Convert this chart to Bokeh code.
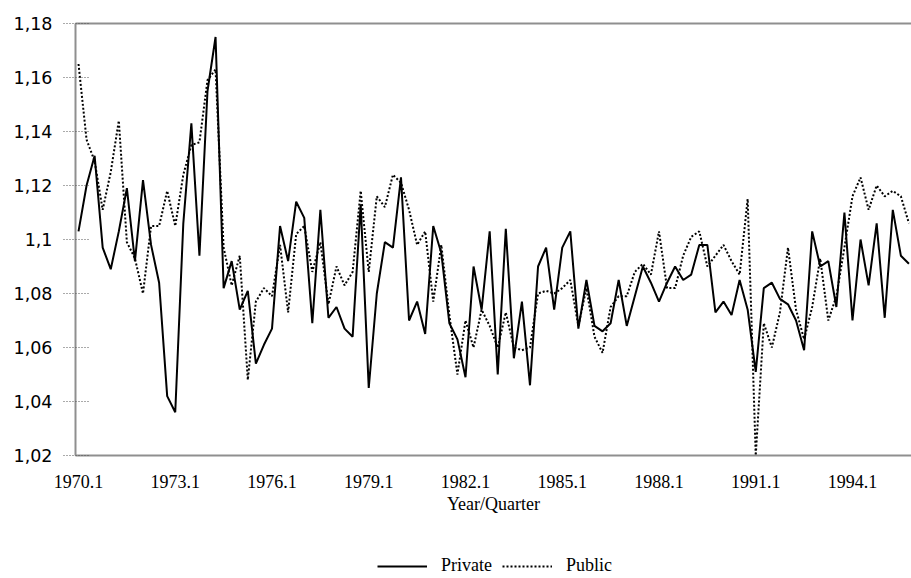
from bokeh.plotting import figure
from bokeh.layouts import column
from bokeh.models import (ColumnDataSource, FixedTicker, LinearAxis, Legend,
                          LegendItem, Range1d)
from bokeh.embed import file_html
from bokeh.resources import INLINE

# ---------------- data (quarterly, 1970.1 ... 1995.4) ----------------
private = [
    1.103, 1.120, 1.131, 1.097, 1.089, 1.103, 1.119, 1.092, 1.122, 1.098,
    1.084, 1.042, 1.036, 1.106, 1.143, 1.094, 1.155, 1.175, 1.082, 1.092,
    1.074, 1.081, 1.054, 1.061, 1.067, 1.105, 1.092, 1.114, 1.108, 1.069,
    1.111, 1.071, 1.075, 1.067, 1.064, 1.113, 1.045, 1.080, 1.099, 1.097,
    1.123, 1.070, 1.077, 1.065, 1.105, 1.095, 1.069, 1.063, 1.049, 1.090,
    1.074, 1.103, 1.050, 1.104, 1.056, 1.077, 1.046, 1.090, 1.097, 1.074,
    1.097, 1.103, 1.067, 1.085, 1.068, 1.066, 1.069, 1.085, 1.068, 1.079,
    1.090, 1.084, 1.077, 1.084, 1.090, 1.085, 1.087, 1.098, 1.098, 1.073,
    1.077, 1.072, 1.085, 1.074, 1.051, 1.082, 1.084, 1.078, 1.076, 1.070,
    1.059, 1.103, 1.090, 1.092, 1.075, 1.110, 1.070, 1.100, 1.083, 1.106,
    1.071, 1.111, 1.094, 1.091,
]
public = [
    1.165, 1.137, 1.129, 1.111, 1.125, 1.144, 1.099, 1.093, 1.080, 1.105,
    1.105, 1.118, 1.105, 1.124, 1.135, 1.136, 1.159, 1.163, 1.097, 1.083,
    1.094, 1.048, 1.077, 1.082, 1.079, 1.098, 1.073, 1.102, 1.105, 1.088,
    1.099, 1.076, 1.090, 1.083, 1.088, 1.118, 1.088, 1.116, 1.112, 1.124,
    1.121, 1.111, 1.098, 1.103, 1.077, 1.098, 1.072, 1.050, 1.070, 1.060,
    1.074, 1.068, 1.060, 1.073, 1.060, 1.059, 1.060, 1.080, 1.081, 1.080,
    1.082, 1.085, 1.068, 1.082, 1.064, 1.058, 1.075, 1.079, 1.079, 1.088,
    1.091, 1.087, 1.103, 1.082, 1.082, 1.094, 1.101, 1.103, 1.090, 1.094,
    1.098, 1.092, 1.087, 1.115, 1.020, 1.069, 1.060, 1.073, 1.097, 1.074,
    1.063, 1.075, 1.093, 1.070, 1.079, 1.097, 1.116, 1.123, 1.111, 1.120,
    1.116, 1.118, 1.116, 1.106,
]
x_tick_labels = ["1970.1", "1973.1", "1976.1", "1979.1", "1982.1",
                 "1985.1", "1988.1", "1991.1", "1994.1"]
x_tick_step = 12  # quarters between labels
y_ticks = [1.02, 1.04, 1.06, 1.08, 1.1, 1.12, 1.14, 1.16, 1.18]
y_tick_labels = ["1,02", "1,04", "1,06", "1,08", "1,1",
                 "1,12", "1,14", "1,16", "1,18"]
series_names = ["Private", "Public"]
x_title = "Year/Quarter"

# ---------------- main figure ----------------
idx = list(range(len(private)))
src = ColumnDataSource(dict(q=idx, private=private, public=public))

FRAME = "#8f8f8f"
SERIF = "Liberation Serif"
PRIV_STYLE = dict(line_color="black", line_width=2)
PUB_STYLE = dict(line_color="black", line_width=2, line_dash="2 2")

p = figure(width=911, height=520, output_backend="svg", toolbar_location=None,
           x_range=Range1d(-0.372, 103.32), y_range=Range1d(y_ticks[0], y_ticks[-1]),
           min_border_left=75, min_border_right=0, min_border_top=23,
           min_border_bottom=65)
p.outline_line_color = None
p.grid.visible = False

p.line("q", "private", source=src, **PRIV_STYLE)
p.line("q", "public", source=src, **PUB_STYLE)

# x axis
xt = [i * x_tick_step for i in range(len(x_tick_labels))]
xa = p.xaxis[0]
xa.ticker = FixedTicker(ticks=xt)
xa.major_label_overrides = {t: l for t, l in zip(xt, x_tick_labels)}
xa.axis_line_color = FRAME
xa.axis_line_width = 2
xa.major_tick_line_color = None
xa.minor_tick_line_color = None
xa.major_tick_out = 0
xa.major_tick_in = 0
xa.major_label_standoff = 19
xa.major_label_text_font = SERIF
xa.major_label_text_font_size = "18px"
xa.major_label_text_color = "black"
xa.axis_label = x_title
xa.axis_label_standoff = 3
xa.axis_label_text_font = SERIF
xa.axis_label_text_font_size = "18px"
xa.axis_label_text_font_style = "normal"
xa.axis_label_text_color = "black"

# y axis
ya = p.yaxis[0]
ya.ticker = FixedTicker(ticks=y_ticks)
ya.major_label_overrides = {t: l for t, l in zip(y_ticks, y_tick_labels)}
ya.axis_line_color = FRAME
ya.axis_line_width = 2
ya.major_tick_line_color = "#555555"
ya.major_tick_line_width = 1
ya.major_tick_line_dash = "1 2"
ya.major_tick_out = 12
ya.major_tick_in = 15
ya.minor_tick_line_color = None
ya.major_label_standoff = 11
ya.major_label_text_font = "DejaVu Sans"
ya.major_label_text_font_size = "17.5px"
ya.major_label_text_color = "black"

# top frame line
top = LinearAxis(ticker=FixedTicker(ticks=[]), axis_line_color=FRAME,
                 axis_line_width=2, major_tick_line_color=None,
                 minor_tick_line_color=None, major_label_text_font_size="0px",
                 major_tick_out=0, major_tick_in=0, major_label_standoff=0)
p.add_layout(top, "above")

# ---------------- legend strip ----------------
lg = figure(width=911, height=58, output_backend="svg", toolbar_location=None,
            x_axis_type=None, y_axis_type=None,
            x_range=Range1d(0, 1), y_range=Range1d(0, 1),
            min_border_left=0, min_border_right=0, min_border_top=0,
            min_border_bottom=0)
lg.outline_line_color = None
lg.grid.visible = False
# key renderers: their data lie outside the strip's ranges, only the legend shows
k_priv = lg.line(x=[-2, -1], y=[-2, -1], **PRIV_STYLE)
k_pub = lg.line(x=[-2, -1], y=[-2, -1], **PUB_STYLE)

legend = Legend(items=[LegendItem(label=series_names[0], renderers=[k_priv]),
                       LegendItem(label=series_names[1], renderers=[k_pub])],
                location=(302, 2), orientation="horizontal",
                glyph_width=50, glyph_height=20, label_standoff=14, spacing=10,
                padding=0, margin=0, border_line_color=None,
                background_fill_alpha=0, label_text_font=SERIF,
                label_text_font_size="18px", label_text_color="black")
lg.add_layout(legend)

layout = column(p, lg, spacing=0)
open("out.html", "w").write(file_html(layout, INLINE))
